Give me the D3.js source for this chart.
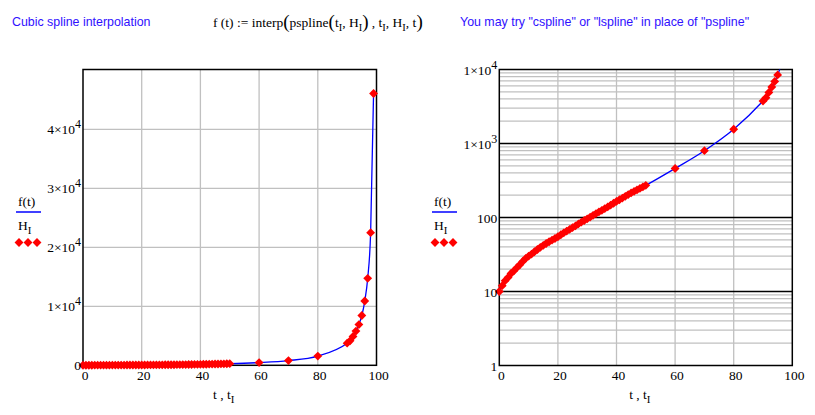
<!DOCTYPE html>
<html>
<head>
<meta charset="utf-8">
<script src="https://cdn.jsdelivr.net/npm/d3@7"></script>
<style>
  body { margin: 0; background: #fff; }
  text { font-family: "Liberation Serif", "Times New Roman", serif; }
  .title { font-family: "Liberation Sans", Arial, sans-serif; font-size: 12.4px; fill: #3010ff; }
</style>
</head>
<body>
<script>
// measured data t_I, H_I
var tI = [0, 1, 2, 3, 4, 5, 6, 7, 8, 9, 10, 11, 12, 13, 14, 15, 16, 17, 18, 19, 20,
  21, 22, 23, 24, 25, 26, 27, 28, 29, 30, 31, 32, 33, 34, 35, 36, 37, 38, 39, 40,
  41, 42, 43, 44, 45, 46, 47, 48, 49, 50,
  60, 70, 80, 90, 91, 92, 93, 94, 95, 96, 97, 98, 99];
var HI = [10, 12, 14, 15.5, 17.5, 19, 21, 23, 25.5, 28, 30, 32, 34.5, 37, 39.5, 42, 44.5, 47, 49.5, 52, 55,
  58.5, 62, 65.5, 69, 73, 77, 82, 86.5, 91, 96, 101, 107, 113, 119, 125, 132, 139, 147, 156, 165,
  174, 183, 193, 204, 215, 225, 236, 247, 259, 272,
  460, 800, 1560, 3750, 4150, 4900, 5800, 6900, 8450, 10900, 14750, 22500, 46100];

var xTicks = [0, 20, 40, 60, 80, 100];
var linTicks = [0, 1e4, 2e4, 3e4, 4e4];
var logTicks = [1, 10, 100, 1e3, 1e4];

var W = 815, H = 415;
var svg = d3.select("body").append("svg").attr("width", W).attr("height", H);
var pts = tI.map((t, i) => ({ t: t, h: HI[i] }));

svg.append("text").attr("class", "title").attr("x", 12).attr("y", 26).text("Cubic spline interpolation");
svg.append("text").attr("class", "title").attr("x", 460).attr("y", 26)
  .text('You may try "cspline" or "lspline" in place of "pspline"');

// formula
var fm = svg.append("text").attr("x", 213).attr("y", 27).attr("font-size", 13.5).attr("fill", "#000");
function part(txt, size, dy) {
  var s = fm.append("tspan").text(txt);
  if (size) s.attr("font-size", size);
  if (dy) s.attr("dy", dy);
}
part("f (t) := interp");
part("(", 19, 1);
part("pspline", null, -1);
part("(", 19, 1);
part("t", null, -1);
part("I", 10.5, 4);
part(", H", null, -4);
part("I", 10.5, 4);
part(")", 19, -3);
part(" , t", null, -1);
part("I", 10.5, 4);
part(", H", null, -4);
part("I", 10.5, 4);
part(", t", null, -4);
part(")", 19, 1);

var diamond = d3.symbol().type(d3.symbolDiamond2).size(50);

function legend(x0) {
  var g = svg.append("g");
  g.append("text").attr("x", x0 + 2).attr("y", 206).attr("font-size", 13.5).text("f(t)");
  g.append("line").attr("x1", x0).attr("x2", x0 + 25).attr("y1", 212).attr("y2", 212)
    .attr("stroke", "#0000ff").attr("stroke-width", 1.5);
  var h = g.append("text").attr("x", x0 + 2).attr("y", 230).attr("font-size", 13.5);
  h.append("tspan").text("H");
  h.append("tspan").attr("font-size", 11).attr("dy", 4).text("I");
  [0, 1, 2].forEach(i => g.append("path").attr("d", diamond)
    .attr("transform", "translate(" + (x0 + 3 + i * 9) + ",242.5)").attr("fill", "#ff0000"));
}

function panel(opts) {
  var x = d3.scaleLinear().domain([0, 100]).range([opts.x0, opts.x1]);
  var y = opts.y;
  var top = y.range()[1], bot = y.range()[0];
  var g = svg.append("g");
  var id = "clip" + Math.round(opts.x0);
  svg.append("clipPath").attr("id", id).append("rect")
    .attr("x", opts.x0).attr("y", top).attr("width", opts.x1 - opts.x0).attr("height", bot - top);

  // grid
  if (opts.minor) {
    g.selectAll(".minor").data(opts.minor).enter().append("line")
      .attr("x1", opts.x0).attr("x2", opts.x1).attr("y1", d => y(d)).attr("y2", d => y(d))
      .attr("stroke", "#c0c0c0").attr("stroke-width", 1.3);
  }
  g.selectAll(".vg").data(xTicks.slice(1, -1)).enter().append("line")
    .attr("x1", d => x(d)).attr("x2", d => x(d)).attr("y1", top).attr("y2", bot)
    .attr("stroke", "#c0c0c0").attr("stroke-width", 1.3);
  g.selectAll(".hg").data(opts.grid).enter().append("line")
    .attr("x1", opts.x0).attr("x2", opts.x1).attr("y1", d => y(d)).attr("y2", d => y(d))
    .attr("stroke", opts.majorColor).attr("stroke-width", opts.majorColor === "#000" ? 1.5 : 1.3);

  // frame
  g.append("rect").attr("x", opts.x0).attr("y", top).attr("width", opts.x1 - opts.x0)
    .attr("height", bot - top).attr("fill", "none").attr("stroke", "#000").attr("stroke-width", 1.5);

  // curve
  var line = d3.line().x(d => x(d.t)).y(d => y(d.h)).curve(d3.curveMonotoneX);
  g.append("path").datum(pts).attr("d", line).attr("fill", "none")
    .attr("stroke", "#0000ff").attr("stroke-width", 1.3).attr("clip-path", "url(#" + id + ")");

  // markers
  g.selectAll(".pt").data(pts.filter(d => d.h <= y.domain()[1])).enter().append("path")
    .attr("d", diamond).attr("fill", "#ff0000")
    .attr("transform", d => "translate(" + x(d.t) + "," + y(d.h) + ")");

  // tick labels
  g.selectAll(".xl").data(xTicks).enter().append("text")
    .attr("x", d => x(d) + 2).attr("y", 380).attr("text-anchor", "middle").attr("font-size", 13.5)
    .text(d => d);
  opts.ticks.forEach(function (v) {
    var t = g.append("text").attr("x", opts.x0 - 2).attr("y", y(v) + 5).attr("text-anchor", "end")
      .attr("font-size", 13.5);
    if (v >= 1000) {
      var e = Math.floor(Math.log10(v) + 1e-9);
      var m = Math.round(v / Math.pow(10, e));
      t.append("tspan").text(m + "\u00d710");
      t.append("tspan").attr("font-size", 12).attr("dy", -6).text(e);
    } else {
      t.text(v);
    }
  });

  var xl = g.append("text").attr("x", (opts.x0 + opts.x1) / 2 - 6).attr("y", 399)
    .attr("text-anchor", "middle").attr("font-size", 13.5);
  xl.append("tspan").text("t , t");
  xl.append("tspan").attr("font-size", 11).attr("dy", 4).text("I");
}

panel({
  x0: 83, x1: 376.5,
  y: d3.scaleLinear().domain([0, 50170]).range([365.3, 69.5]),
  ticks: linTicks,
  grid: linTicks.slice(1),
  majorColor: "#c0c0c0"
});
var minor = [];
[1, 10, 100, 1000].forEach(b => [2, 3, 4, 5, 6, 7, 8, 9].forEach(k => minor.push(b * k)));
panel({
  x0: 499.3, x1: 792.3,
  y: d3.scaleLog().domain([1, 1e4]).range([365.5, 69.5]),
  ticks: logTicks,
  grid: logTicks.slice(1, -1),
  minor: minor,
  majorColor: "#000"
});

legend(16);
legend(432);
</script>
</body>
</html>
